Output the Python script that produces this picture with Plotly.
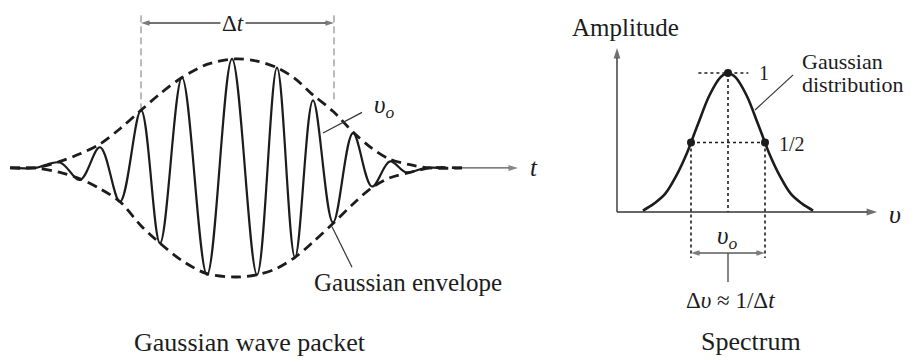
import plotly.graph_objects as go
from plotly.subplots import make_subplots

# ---- Gaussian wave packet (time axis t, amplitude normalised to the envelope peak) ----
# turning points of the carrier, left to right
wave_t = [-11.25, -10.0, -8.75, -7.75, -6.75, -5.75, -4.7, -3.75, -2.65, -1.4, -0.15,
          1.1, 2.1, 3.0, 3.9, 4.9, 5.9, 6.85, 7.75, 8.55, 9.5, 10.4]
wave_a = [0, 0, 0.05, -0.11, 0.19, -0.31, 0.53, -0.69, 0.83, -0.98, 1.0,
          -0.98, 0.92, -0.82, 0.62, -0.50, 0.32, -0.17, 0.06, -0.04, 0, 0]

# Gaussian envelope, upper and lower branch
env_t = [-11.25, -10.0, -8.75, -7.75, -6.75, -5.75, -4.7, -3.75, -2.65, -1.4, 0.0,
         1.1, 2.1, 3.0, 3.9, 4.9, 5.9, 6.85, 7.75, 8.75, 9.75, 11.35]
env_upper = [0, 0, 0.06, 0.13, 0.22, 0.36, 0.53, 0.68, 0.83, 0.95, 1.0,
             0.98, 0.92, 0.82, 0.67, 0.52, 0.33, 0.18, 0.08, 0.03, 0, 0]
env_lower = [0, 0, -0.04, -0.10, -0.19, -0.31, -0.53, -0.69, -0.85, -0.97, -1.0,
             -0.98, -0.92, -0.82, -0.68, -0.51, -0.33, -0.18, -0.09, -0.04, 0, 0]

dt_edges = [-4.7, 4.95]      # pulse width Δt
dt_bottom = [0.53, 0.60]     # where the marker lines meet the envelope
dt_top = 1.40
dt_arrow_y = 1.33
t_axis = [11.35, 14.15]

# ---- Spectrum ----
nu = [0.7, 1.0, 1.3, 1.6, 1.9, 2.0, 2.2, 2.5, 2.8, 3.0,
      3.2, 3.5, 3.8, 4.0, 4.1, 4.4, 4.7, 5.0, 5.3]
spec = [0.01, 0.06, 0.13, 0.26, 0.43, 0.5, 0.64, 0.84, 0.97, 1.0,
        0.97, 0.84, 0.64, 0.5, 0.43, 0.26, 0.13, 0.06, 0.01]
nu0 = 3.0
half_nu = [2.0, 4.0]
peak_amp = 1.0
half_amp = 0.5
nu_axis_end = 7.03
amp_axis_end = 1.18
dnu_arrow_y = -0.295

INK = "#1c1c1c"
SERIF = "Liberation Serif, Times New Roman, serif"

fig = make_subplots(rows=1, cols=2, column_widths=[540, 378], horizontal_spacing=0)


def arrow_line(xs, ys, row, col, color="#333", width=1.4, head=10):
    """Straight line whose last point carries an arrowhead."""
    fig.add_trace(go.Scatter(
        x=xs, y=ys, mode="lines+markers",
        line=dict(color=color, width=width),
        marker=dict(symbol="arrow", angleref="previous", color=color,
                    size=[0] * (len(xs) - 1) + [head], line=dict(width=0))), row, col)


# left panel -------------------------------------------------------------
for x0, yb in zip(dt_edges, dt_bottom):
    fig.add_trace(go.Scatter(x=[x0, x0], y=[dt_top, yb], mode="lines",
                             line=dict(color="#777", width=1, dash="7px,4px")), 1, 1)
dt_mid = sum(dt_edges) / 2
for xe in dt_edges:
    arrow_line([dt_mid, xe], [dt_arrow_y, dt_arrow_y], 1, 1, color="#444", width=1.3, head=9)
arrow_line(t_axis, [0, 0], 1, 1, color="#555", width=1.2, head=10)

fig.add_trace(go.Scatter(x=env_t, y=env_upper, mode="lines",
                         line=dict(color=INK, width=2.8, dash="10px,6px", shape="spline", smoothing=0.9)), 1, 1)
fig.add_trace(go.Scatter(x=env_t, y=env_lower, mode="lines",
                         line=dict(color=INK, width=2.8, dash="10px,6px", shape="spline", smoothing=0.9)), 1, 1)
fig.add_trace(go.Scatter(x=wave_t, y=wave_a, mode="lines",
                         line=dict(color=INK, width=2.2, shape="spline", smoothing=1.0)), 1, 1)

# right panel ------------------------------------------------------------
arrow_line([0, 0], [0, amp_axis_end], 1, 2, head=11)
arrow_line([0, nu_axis_end], [0, 0], 1, 2, head=11)

dot = dict(color=INK, width=1.6, dash="3px,3px")
fig.add_trace(go.Scatter(x=[2.2, 3.55], y=[peak_amp, peak_amp], mode="lines", line=dot), 1, 2)
fig.add_trace(go.Scatter(x=half_nu, y=[half_amp, half_amp], mode="lines", line=dot), 1, 2)
fig.add_trace(go.Scatter(x=[nu0, nu0], y=[peak_amp, 0], mode="lines", line=dot), 1, 2)
for xv in half_nu:
    fig.add_trace(go.Scatter(x=[xv, xv], y=[half_amp, -0.33], mode="lines", line=dot), 1, 2)

fig.add_trace(go.Scatter(x=nu, y=spec, mode="lines",
                         line=dict(color=INK, width=2.6, shape="spline", smoothing=1.0)), 1, 2)
fig.add_trace(go.Scatter(x=[half_nu[0], nu0, half_nu[1]], y=[half_amp, peak_amp, half_amp],
                         mode="markers", marker=dict(color=INK, size=8)), 1, 2)

for xe in half_nu:
    arrow_line([nu0, xe], [dnu_arrow_y, dnu_arrow_y], 1, 2, color="#444", width=1.3, head=9)
fig.add_trace(go.Scatter(x=[nu0, nu0], y=[dnu_arrow_y, -0.504], mode="lines",
                         line=dict(color="#444", width=1.3)), 1, 2)

# axes ranges map the panels onto the page
fig.update_xaxes(range=[-11.75, 15.25], visible=False, row=1, col=1)
fig.update_yaxes(range=[-1.780, 1.541], visible=False, row=1, col=1)
fig.update_xaxes(range=[-2.081, 8.135], visible=False, row=1, col=2)
fig.update_yaxes(range=[-1.079, 1.525], visible=False, row=1, col=2)


def label(x, y, text, xr, yr, size=24, anchor="center", **kw):
    return dict(x=x, y=y, xref=xr, yref=yr, text=text, showarrow=False, xanchor=anchor,
                font=dict(family=SERIF, size=size, color=INK), **kw)


ann = [
    # left panel
    label(14.95, 0, "<i>t</i>", "x", "y", size=25),
    label(-0.1, dt_arrow_y, "Δ<i>t</i>", "x", "y", size=23, bgcolor="white", borderpad=1),
    label(7.45, 0.56, "<i>υ<sub>o</sub></i>", "x", "y", size=25),
    label(8.65, -1.05, "Gaussian envelope", "x", "y", size=25),
    label(0.75, -1.60, "Gaussian wave packet", "x", "y", size=26),
    # right panel
    label(0.22, 1.325, "Amplitude", "x2", "y2", size=25),
    label(7.5, -0.02, "<i>υ</i>", "x2", "y2", size=26),
    label(4.95, 1.08, "Gaussian", "x2", "y2", size=22, anchor="left"),
    label(4.95, 0.915, "distribution", "x2", "y2", size=22, anchor="left"),
    label(3.78, 1.0, "1", "x2", "y2", size=20, anchor="left"),
    label(4.33, 0.49, "1/2", "x2", "y2", size=20, anchor="left"),
    label(2.98, -0.18, "<i>υ<sub>o</sub></i>", "x2", "y2", size=25),
    label(3.08, -0.64, "Δ<i>υ</i> ≈ 1/Δ<i>t</i>", "x2", "y2", size=23),
    label(3.62, -0.935, "Spectrum", "x2", "y2", size=26),
]

shapes = [
    # leader lines
    dict(type="line", xref="x", yref="y", x0=4.4, y0=0.32, x1=6.35, y1=0.51,
         line=dict(color="#333", width=1.2)),
    dict(type="line", xref="x", yref="y", x0=4.85, y0=-0.54, x1=5.85, y1=-0.91,
         line=dict(color="#333", width=1.2)),
    dict(type="line", xref="x2", yref="y2", x0=3.73, y0=0.734, x1=4.76, y1=0.986,
         line=dict(color="#333", width=1.2)),
]

fig.update_layout(width=918, height=362, margin=dict(l=0, r=0, t=0, b=0),
                  paper_bgcolor="white", plot_bgcolor="white", showlegend=False,
                  annotations=ann, shapes=shapes)

fig.write_html("out.html")
